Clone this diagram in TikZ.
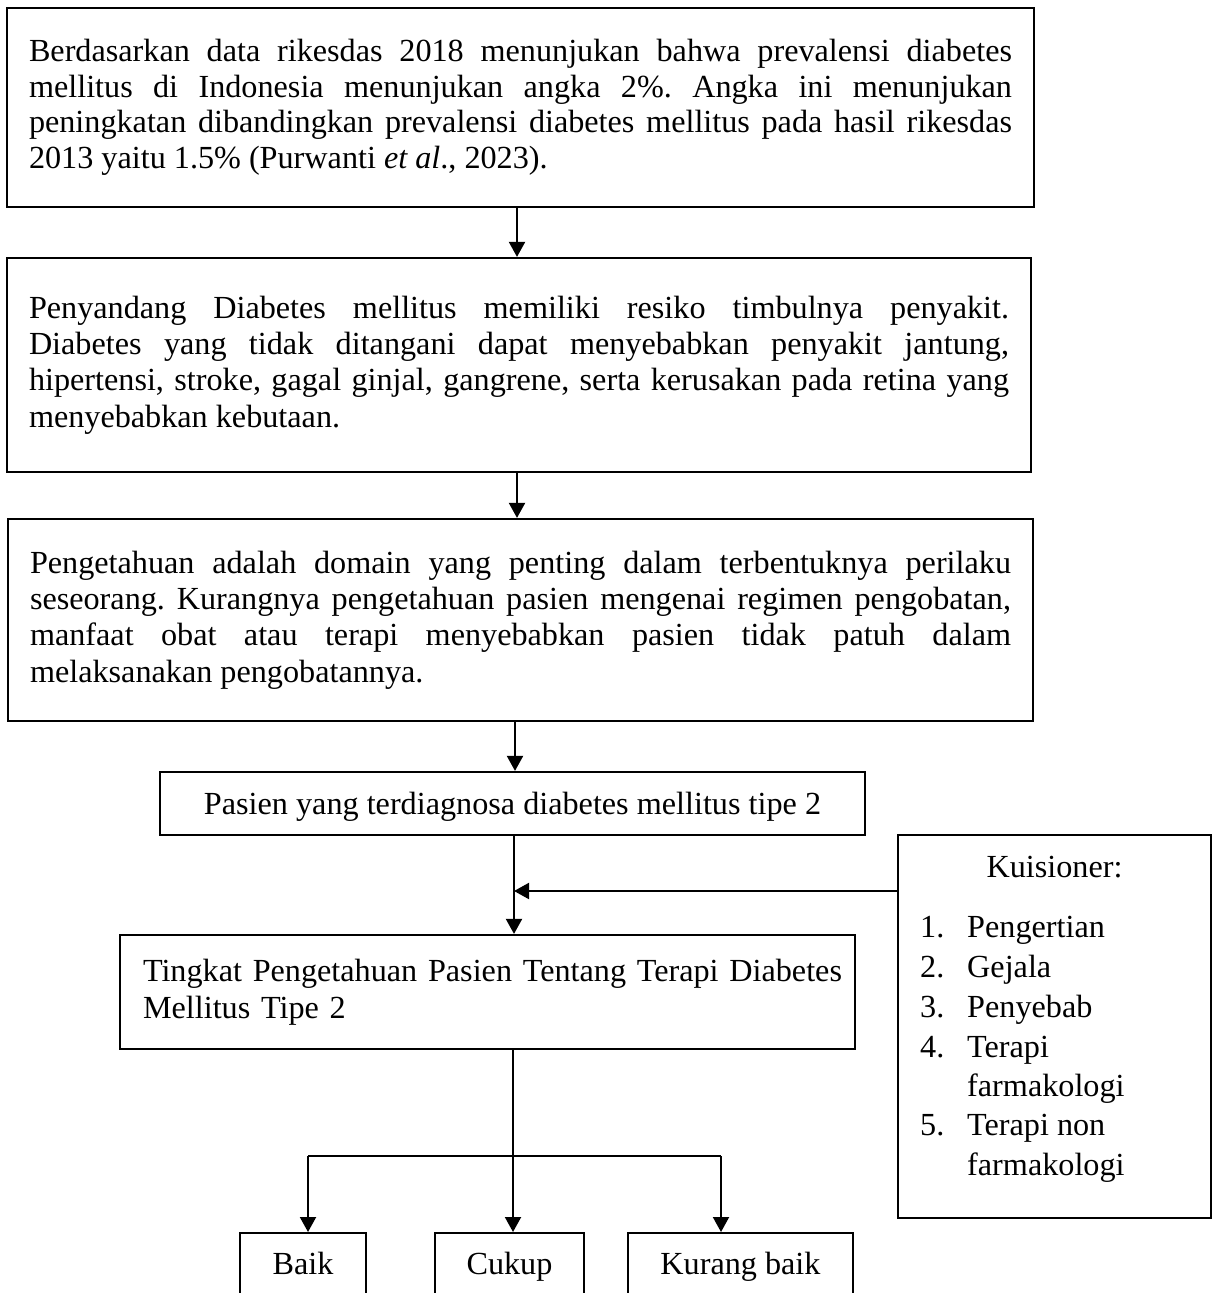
\documentclass[tikz,border=0pt]{standalone}
\usepackage{fontspec}
\setmainfont{Liberation Serif}
\usetikzlibrary{arrows.meta}
\hyphenpenalty=10000\relax
\tolerance=9999\relax
\frenchspacing
\begin{document}
\begin{tikzpicture}[x=1pt,y=-1pt,
  box/.style={draw, line width=2.2pt, inner sep=0pt},
  big/.style={box, text width=#1, align=justify},
  f35/.style={font=\fontsize{32.2}{35.5}\selectfont},
  f36/.style={font=\fontsize{32.2}{36.3}\selectfont},
  f37/.style={font=\fontsize{32.2}{37}\selectfont},
  arr/.style={line width=2pt, -{Triangle[length=15pt,width=16pt]}},
  ln/.style={line width=2pt},
  item/.style={anchor=base west, inner sep=0pt, font=\fontsize{32.2}{37}\selectfont},
  leaf/.style={box, anchor=north, minimum height=68pt, text height=22pt, text depth=8pt, font=\fontsize{32.2}{37}\selectfont}
]
\path[use as bounding box] (0,0) rectangle (1217,1293);
\clip (0,0) rectangle (1217,1293);

% main boxes
\node[big=983pt, f35, minimum width=1027pt, minimum height=199pt] (b1) at (520.5,107.5)
{Berdasarkan data rikesdas 2018 menunjukan bahwa prevalensi diabetes\linebreak
mellitus di Indonesia menunjukan angka 2\%. Angka ini menunjukan\linebreak
peningkatan dibandingkan prevalensi diabetes mellitus pada hasil rikesdas\linebreak
2013 yaitu 1.5\% (Purwanti \textit{et al}., 2023).};

\node[big=980pt, f36, minimum width=1024pt, minimum height=214pt] (b2) at (519,365)
{Penyandang Diabetes mellitus memiliki resiko timbulnya penyakit.\linebreak
Diabetes yang tidak ditangani dapat menyebabkan penyakit jantung,\linebreak
hipertensi, stroke, gagal ginjal, gangrene, serta kerusakan pada retina yang\linebreak
menyebabkan kebutaan.};

\node[big=981pt, f36, minimum width=1025pt, minimum height=202pt] (b3) at (520.5,620)
{Pengetahuan adalah domain yang penting dalam terbentuknya perilaku\linebreak
seseorang. Kurangnya pengetahuan pasien mengenai regimen pengobatan,\linebreak
manfaat obat atau terapi menyebabkan pasien tidak patuh dalam\linebreak
melaksanakan pengobatannya.};

\node[box, f37, minimum width=705pt, minimum height=63pt, text height=22pt, text depth=0pt] (b4) at (512.5,803.5)
{Pasien yang terdiagnosa diabetes mellitus tipe 2};

\node[box, f37, text width=712pt, align=left, inner xsep=11.5pt, minimum height=114pt] (b5) at (487.5,992)
{\hspace*{11.5pt}Tingkat Pengetahuan Pasien Tentang Terapi Diabetes\\
\hspace*{11.5pt}Mellitus Tipe 2};

% questionnaire box
\node[box, minimum width=313pt, minimum height=383pt] (kuis) at (1054.5,1026.5) {};
\node[anchor=base, inner sep=0pt, font=\fontsize{32.2}{37}\selectfont] (kt) at (1054.5,877) {Kuisioner:};
\node[item] (n1) at (920,937) {1.};
\node[item] (t1) at (967,937) {Pengertian};
\node[item] (n2) at (920,977) {2.};
\node[item] (t2) at (967,977) {Gejala};
\node[item] (n3) at (920,1017) {3.};
\node[item] (t3) at (967,1017) {Penyebab};
\node[item] (n4) at (920,1057) {4.};
\node[item] (t4) at (967,1057) {Terapi};
\node[item] (t4b) at (967,1096) {farmakologi};
\node[item] (n5) at (920,1135) {5.};
\node[item] (t5) at (967,1135) {Terapi non};
\node[item] (t5b) at (967,1175) {farmakologi};

% outcome boxes
\node[leaf, minimum width=126pt] (baik) at (303,1232) {Baik};
\node[leaf, minimum width=149pt] (cukup) at (509.5,1232) {Cukup};
\node[leaf, minimum width=225pt] (kurang) at (740.5,1232) {Kurang baik};

% connectors
\coordinate (c1) at (517,0);
\coordinate (c3) at (515,0);
\coordinate (c4) at (514,891);
\coordinate (br) at (513,1156);
\coordinate (ab) at (308,1156);
\coordinate (ak) at (721,1156);

\draw[arr] (b1.south -| c1) -- (b2.north -| c1);
\draw[arr] (b2.south -| c1) -- (b3.north -| c1);
\draw[arr] (b3.south -| c3) -- (b4.north -| c3);
\draw[arr] (b4.south -| c4) -- (b5.north -| c4);
\draw[arr] (kuis.west |- c4) -- (c4);
\draw[arr] (b5.south -| br) -- (cukup.north -| br);
\draw[ln] (ab) -- (ak);
\draw[arr] (ab) -- (baik.north -| ab);
\draw[arr] (ak) -- (kurang.north -| ak);
\end{tikzpicture}
\end{document}
